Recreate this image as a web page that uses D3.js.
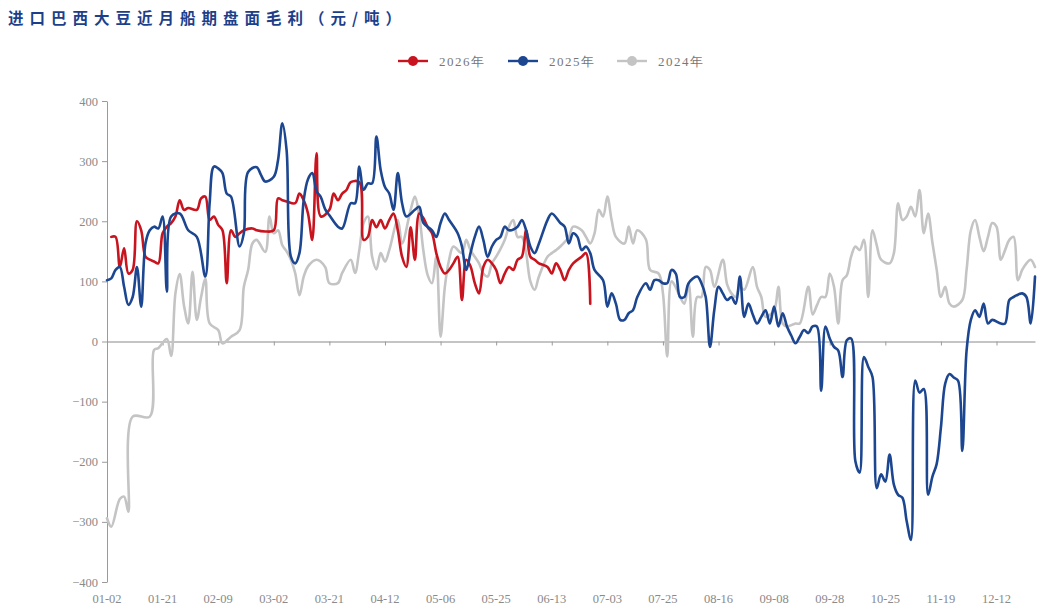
<!DOCTYPE html>
<html><head><meta charset="utf-8">
<script src="https://cdn.jsdelivr.net/npm/d3@7/dist/d3.min.js"></script>
<style>
html,body{margin:0;padding:0;background:#fff;}
svg{display:block;}
</style></head>
<body>
<svg id="chart" width="1038" height="605"></svg>
<script>
// ---- data ----
const title = "进口巴西大豆近月船期盘面毛利（元/吨）";
const seriesNames = ["2026年", "2025年", "2024年"];
const seriesColors = ["#c8141e", "#1c4690", "#c4c4c4"];
const dayCount = 218; // trading-day categories, index 0..217
const tickLabels = ["01-02","01-21","02-09","03-02","03-21","04-12","05-06","05-25","06-13","07-03","07-25","08-16","09-08","09-28","10-25","11-19","12-12"];
const tickEvery = 13;
const yTicks = [-400,-300,-200,-100,0,100,200,300,400];

// [day index, value]
const s2026 = [[1,174],[2,174],[3,124],[4,155],[5,113],[6,119],[7,200],[8,185],[9,141],[10,136],[11,133],[12,130],[13,180],[14,191],[15,197],[16,208],[17,235],[18,219],[19,222],[21,219],[22,238],[23,241],[24,202],[25,208],[26,194],[27,185],[28,97],[29,185],[30,174],[31,180],[32,185],[34,188],[35,185],[37,183],[39,185],[40,238],[41,235],[42,233],[44,230],[45,246],[46,235],[47,213],[48,169],[49,313],[50,208],[52,219],[53,246],[54,235],[55,246],[56,252],[57,265],[59,265],[60,169],[61,174],[62,202],[63,190],[64,202],[65,188],[66,202],[67,213],[68,185],[69,141],[70,124],[71,190],[72,136],[73,213],[74,205],[75,190],[76,180],[77,147],[78,124],[79,113],[80,119],[81,130],[82,141],[83,69],[84,136],[85,125],[86,97],[87,80],[88,124],[89,136],[90,130],[91,119],[92,97],[93,113],[94,124],[95,119],[96,136],[97,141],[98,185],[99,141],[100,136],[101,130],[103,124],[104,113],[105,130],[106,119],[107,102],[108,119],[109,130],[111,141],[112,147],[113,63]];

const s2025 = [[0,102],[1,105],[2,119],[3,124],[4,91],[5,61],[6,74],[7,124],[8,58],[9,163],[10,185],[11,191],[12,188],[13,208],[14,83],[15,208],[17,213],[19,185],[21,174],[23,108],[24,230],[25,291],[26,288],[27,280],[28,246],[29,241],[31,158],[32,180],[33,282],[35,290],[36,277],[37,266],[39,274],[40,302],[41,363],[42,318],[43,141],[44,130],[45,147],[46,235],[47,270],[48,280],[49,250],[50,240],[51,220],[52,210],[54,191],[55,188],[57,230],[58,230],[59,291],[60,252],[61,263],[62,263],[63,341],[64,285],[65,257],[66,246],[67,219],[68,280],[69,230],[70,208],[72,219],[73,224],[74,197],[76,185],[77,174],[78,197],[79,213],[80,202],[82,180],[83,158],[84,119],[85,147],[86,174],[87,191],[88,169],[89,141],[90,158],[91,169],[92,174],[93,191],[94,185],[96,191],[97,202],[98,185],[99,158],[100,147],[101,163],[103,202],[104,213],[106,197],[107,191],[108,163],[109,180],[110,174],[111,152],[112,158],[113,147],[114,119],[116,102],[117,58],[118,80],[119,63],[120,36],[121,36],[122,47],[123,52],[124,74],[126,97],[127,86],[128,102],[129,102],[130,97],[131,97],[132,119],[133,113],[134,74],[135,74],[136,97],[138,108],[139,97],[140,74],[141,-9],[142,52],[143,91],[144,80],[145,69],[146,74],[147,63],[148,108],[149,41],[150,63],[151,45],[152,30],[153,41],[154,52],[155,30],[156,58],[157,25],[158,47],[159,25],[160,10],[161,-3],[162,8],[163,19],[164,14],[165,25],[166,25],[167,-82],[168,25],[169,5],[170,-9],[171,-15],[172,-59],[173,2],[174,5],[175,-199],[176,-218],[177,-26],[178,-42],[179,-59],[180,-244],[181,-221],[182,-233],[183,-188],[184,-238],[185,-255],[186,-260],[187,-299],[188,-330],[189,-65],[190,-85],[191,-79],[192,-255],[193,-225],[194,-204],[195,-143],[196,-70],[197,-54],[198,-60],[199,-65],[200,-182],[201,-15],[202,36],[203,52],[204,41],[205,63],[206,30],[207,36],[209,30],[210,30],[211,69],[212,74],[214,80],[215,74],[216,30],[217,108]];

const s2024 = [[0,-294],[1,-308],[3,-262],[4,-258],[5,-283],[6,-125],[10,-125],[11,-14],[12,-11],[14,4],[15,-24],[16,80],[17,112],[18,60],[19,30],[20,116],[21,36],[22,74],[23,104],[24,30],[26,19],[27,-3],[29,8],[31,19],[32,91],[33,119],[34,163],[35,169],[37,149],[38,208],[39,180],[40,185],[41,160],[42,150],[43,136],[44,114],[45,77],[46,108],[47,125],[49,136],[51,124],[52,97],[54,97],[55,114],[57,136],[58,114],[59,152],[60,197],[61,208],[62,141],[63,120],[64,147],[65,133],[66,152],[68,202],[69,163],[71,219],[72,241],[73,210],[74,150],[75,110],[76,97],[77,141],[78,8],[79,91],[80,136],[81,158],[83,147],[84,169],[85,152],[87,130],[88,113],[89,108],[90,130],[91,141],[93,169],[94,191],[95,202],[96,174],[97,174],[98,147],[99,100],[100,86],[101,108],[103,141],[104,147],[105,152],[106,158],[108,174],[109,191],[111,185],[112,174],[113,163],[114,180],[115,219],[116,208],[117,241],[118,202],[119,174],[121,163],[122,191],[123,163],[124,185],[126,170],[127,119],[129,113],[130,80],[131,-25],[132,100],[133,90],[134,74],[135,63],[136,97],[137,8],[138,74],[139,74],[140,124],[141,119],[142,91],[144,136],[145,95],[146,80],[147,74],[148,91],[149,86],[151,124],[152,91],[153,74],[154,41],[156,52],[157,91],[158,30],[159,25],[161,30],[162,30],[164,91],[165,45],[166,60],[167,74],[168,74],[169,113],[170,91],[171,30],[172,102],[173,110],[174,141],[175,158],[176,152],[177,169],[178,74],[179,185],[180,160],[181,136],[183,130],[184,147],[185,230],[186,202],[187,208],[188,224],[189,208],[190,252],[191,180],[192,213],[193,165],[194,120],[195,74],[196,91],[197,63],[198,58],[200,69],[201,119],[202,185],[203,202],[204,174],[205,150],[206,174],[207,197],[208,191],[209,136],[210,152],[211,169],[212,174],[213,102],[214,119],[215,130],[216,136],[217,124]];

// ---- drawing ----
const svg = d3.select("#chart");
const x = d3.scaleLinear().domain([0, dayCount - 1]).range([107, 1035]);
const y = d3.scaleLinear().domain([-400, 400]).range([582, 101]);
const axisColor = "#9a9a9a";
const labelColor = "#8a8a8a";
const serif = "'Liberation Serif','Times New Roman',serif";

// title
svg.append("text").attr("x", 8).attr("y", 24)
  .attr("font-family", "'Noto Sans CJK SC',sans-serif").attr("font-weight", "bold")
  .attr("font-size", 15.5).attr("letter-spacing", 6).attr("fill", "#1d3f8a")
  .text(title);

// y axis
const yAxis = svg.append("g").attr("transform", `translate(${x(0)},0)`)
  .call(d3.axisLeft(y).tickValues(yTicks).tickSize(5).tickSizeOuter(0).tickPadding(4));
yAxis.select(".domain").attr("stroke", axisColor);
yAxis.selectAll(".tick line").attr("stroke", axisColor);
yAxis.selectAll(".tick text").attr("fill", labelColor).attr("font-family", serif).attr("font-size", 12.5);

// x axis on zero line
const tickIdx = tickLabels.map((d, i) => i * tickEvery);
const xAxis = svg.append("g").attr("transform", `translate(0,${y(0)})`)
  .call(d3.axisBottom(x).tickValues(tickIdx).tickSize(4).tickSizeOuter(0).tickFormat(""));
xAxis.select(".domain").attr("stroke", "#8a8a8a");
xAxis.selectAll(".tick line").attr("stroke", axisColor);

// x labels at bottom
svg.append("g").selectAll("text").data(tickLabels).join("text")
  .attr("x", (d, i) => x(tickIdx[i])).attr("y", 603)
  .attr("text-anchor", "middle").attr("font-family", serif).attr("font-size", 12.5)
  .attr("fill", labelColor).text(d => d);

// lines
const line = d3.line().x(d => x(d[0])).y(d => y(d[1])).curve(d3.curveCatmullRom.alpha(0.5));
const drawOrder = [[s2024, 2], [s2026, 0], [s2025, 1]];
drawOrder.forEach(([data, k]) => {
  svg.append("path").datum(data).attr("d", line)
    .attr("fill", "none").attr("stroke", seriesColors[k])
    .attr("stroke-width", 2.6).attr("stroke-linejoin", "round").attr("stroke-linecap", "round");
});

// legend
const legendX = [398, 508, 617];
const lg = svg.append("g");
seriesNames.forEach((name, k) => {
  const g = lg.append("g").attr("transform", `translate(${legendX[k]},61)`);
  g.append("line").attr("x1", 0).attr("x2", 30).attr("y1", 0).attr("y2", 0)
    .attr("stroke", seriesColors[k]).attr("stroke-width", 2.4);
  g.append("circle").attr("cx", 15).attr("cy", 0).attr("r", 5).attr("fill", seriesColors[k]);
  g.append("text").attr("x", 41).attr("y", 4.5).attr("font-family", serif)
    .attr("font-size", 13).attr("letter-spacing", 1.5).attr("fill", "#777").text(name);
});
</script>
</body></html>
